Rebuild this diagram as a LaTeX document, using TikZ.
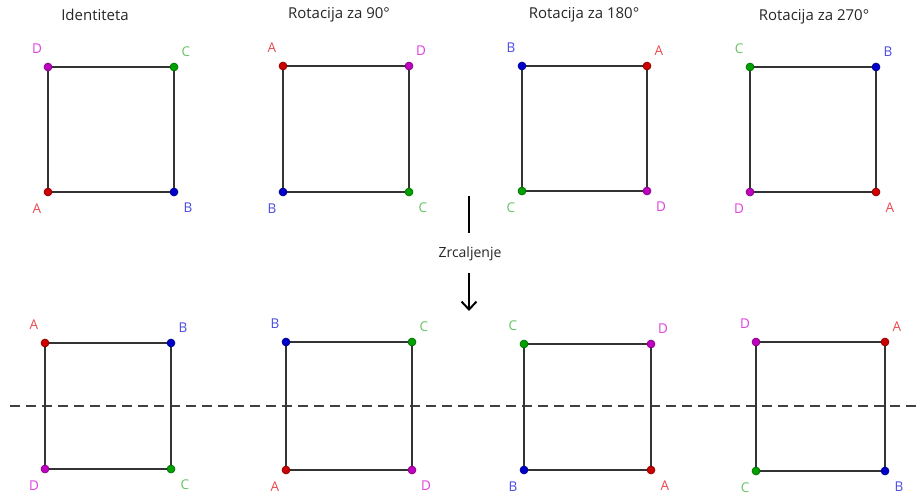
\documentclass[tikz,border=0pt]{standalone}
\usepackage{fontspec}
\setmainfont{Open Sans}
\usetikzlibrary{arrows.meta}
\definecolor{dotA}{HTML}{CC0000}\definecolor{labA}{HTML}{E8494F}
\definecolor{dotB}{HTML}{0000CC}\definecolor{labB}{HTML}{4A4AE6}
\definecolor{dotC}{HTML}{00A000}\definecolor{labC}{HTML}{66C466}
\definecolor{dotD}{HTML}{C000C0}\definecolor{labD}{HTML}{E040E0}
\definecolor{edgecol}{HTML}{333333}
\tikzset{
  edge/.style={draw=edgecol,line width=2.3pt},
  vtx/.style={circle,fill=dot#1,draw=dot#1!65!black,line width=0.6pt,inner sep=0pt,minimum size=8pt},
  lab/.style={text=lab#1,font=\fontsize{13.5}{15}\selectfont,inner sep=0pt},
  ttl/.style={text=black!85,font=\fontsize{15}{17}\selectfont,inner sep=0pt},
  mirror/.style={draw=black!75,line width=1.8pt,dash pattern=on 10pt off 6pt},
  arr/.style={draw=black,line width=2.4pt},
}
% #1 prefix, #2 xl, #3 yt, #4 xr, #5 yb, #6 TL, #7 TR, #8 BL, #9 BR
\newcommand\mysq[9]{%
  \coordinate (#1tl) at (#2,#3);
  \coordinate (#1tr) at (#4,#3);
  \coordinate (#1bl) at (#2,#5);
  \coordinate (#1br) at (#4,#5);
  \draw[edge] (#1tl) -- (#1tr) -- (#1br) -- (#1bl) -- cycle;
  \node[vtx=#6] (#1v#6) at (#1tl) {};
  \node[vtx=#7] (#1v#7) at (#1tr) {};
  \node[vtx=#8] (#1v#8) at (#1bl) {};
  \node[vtx=#9] (#1v#9) at (#1br) {};
  \node[lab=#6] (#1l#6) at ([shift={(-11,-18)}]#1tl) {#6};
  \node[lab=#7] (#1l#7) at ([shift={(12,-15)}]#1tr) {#7};
  \node[lab=#8] (#1l#8) at ([shift={(-11,17)}]#1bl) {#8};
  \node[lab=#9] (#1l#9) at ([shift={(14,16)}]#1br) {#9};
}
\begin{document}
\begin{tikzpicture}[x=1pt,y=-1pt]
\useasboundingbox (0,0) rectangle (921,495);
% titles
\node[ttl] (t1) at (95,15) {Identiteta};
\node[ttl] (t2) at (339,15) {Rotacija za 90°};
\node[ttl] (t3) at (584,15) {Rotacija za 180°};
\node[ttl] (t4) at (814,17) {Rotacija za 270°};
% mirror line
\coordinate (ml) at (10,406);
\coordinate (mr) at (921,406);
\draw[mirror] (ml) -- (mr);
% top row
\mysq{a}{48}{67}{174}{192}{D}{C}{A}{B}
\mysq{b}{283}{66}{409}{192}{A}{D}{B}{C}
\mysq{c}{522}{66}{647}{191}{B}{A}{C}{D}
\mysq{d}{750}{67}{876}{192}{C}{B}{D}{A}
% bottom row
\mysq{e}{45}{343}{171}{469}{A}{B}{D}{C}
\mysq{f}{286}{342}{412}{470}{B}{C}{A}{D}
\mysq{g}{524}{344}{651}{470}{C}{D}{B}{A}
\mysq{h}{756}{342}{885}{471}{D}{A}{C}{B}
% reflection arrow
\coordinate (s1) at (469,196);
\coordinate (s2) at (469,233);
\node[ttl,font=\fontsize{14}{16}\selectfont] (zr) at (470,254) {Zrcaljenje};
\coordinate (s3) at (469,273);
\coordinate (s4) at (469,311);
\draw[arr] (s1) -- (s2);
\draw[arr,-{Straight Barb[length=8pt,width=15pt,line width=2pt]}] (s3) -- (s4);
\end{tikzpicture}
\end{document}
